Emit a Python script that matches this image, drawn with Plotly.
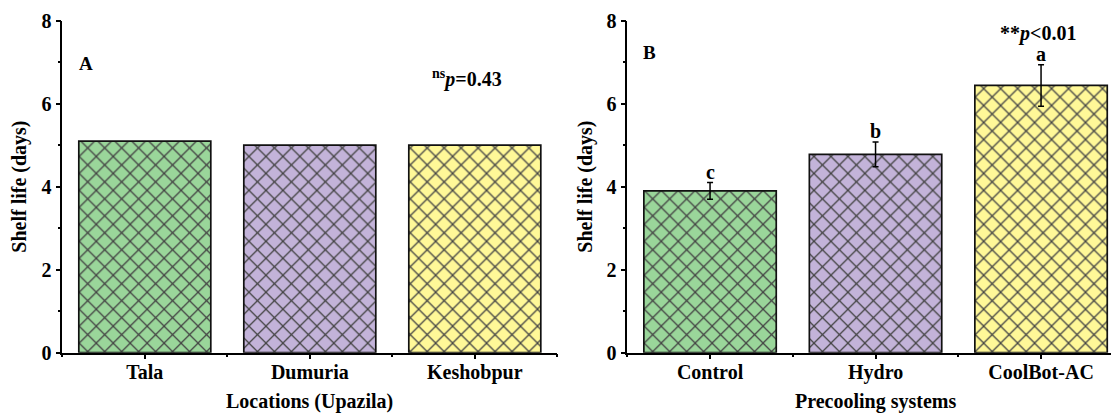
import plotly.graph_objects as go

# ---- data ----
locations = ["Tala", "Dumuria", "Keshobpur"]
loc_shelf = [5.1, 5.0, 5.0]

systems = ["Control", "Hydro", "CoolBot-AC"]
sys_shelf = [3.9, 4.78, 6.44]
sys_err = [0.2, 0.3, 0.5]
sys_letters = ["c", "b", "a"]

bar_colors = ["#9AD69A", "#C3B3D9", "#FFF898"]
yticks = [0, 2, 4, 6, 8]

W, H = 1111, 414
FONT = "Liberation Serif, Times New Roman, serif"
FS = 20

fig = go.Figure()

xs_left = list(range(len(locations)))
xs_right = list(range(len(systems)))

pattern = dict(shape="x", size=12, solidity=0.2,
               fgcolor="#000000", bgcolor=bar_colors, fgopacity=1,
               fillmode="overlay")

fig.add_trace(go.Bar(
    x=xs_left, y=loc_shelf, width=0.8,
    marker=dict(color=bar_colors,
                line=dict(color="#111111", width=1.7),
                pattern=pattern),
    xaxis="x", yaxis="y", showlegend=False, hoverinfo="skip"))

fig.add_trace(go.Bar(
    x=xs_right, y=sys_shelf, width=0.8,
    error_y=dict(type="data", array=sys_err, visible=True,
                 color="#000000", thickness=1.5, width=3),
    marker=dict(color=bar_colors,
                line=dict(color="#111111", width=1.7),
                pattern=pattern),
    xaxis="x2", yaxis="y2", showlegend=False, hoverinfo="skip"))

ydom = [1 - 352.7 / H, 1 - 20.7 / H]
xdom1 = [62.3 / W, 557.3 / W]
xdom2 = [627.3 / W, 1.0]

def xaxis_cfg(dom, labels, rng, anchor):
    n = len(labels)
    return dict(domain=dom, range=rng, anchor=anchor, automargin=False,
                tickmode="array", tickvals=list(range(n)), ticktext=labels,
                ticks="outside", ticklen=5, tickwidth=1.5, tickcolor="#000",
                ticklabelstandoff=-4,
                minor=dict(tickmode="array",
                           tickvals=[i - 0.5 for i in range(n + 1)],
                           ticks="outside", ticklen=3, tickwidth=1.5, tickcolor="#000"),
                showline=True, linecolor="#000", linewidth=1.5,
                showgrid=False, zeroline=False,
                tickfont=dict(family=FONT, size=FS, color="#000", weight="bold"),
                fixedrange=True)

def yaxis_cfg(anchor):
    return dict(domain=ydom, range=[0, 8], anchor=anchor, automargin=False,
                tickmode="array", tickvals=yticks, ticktext=[str(t) for t in yticks],
                ticks="outside", ticklen=5, tickwidth=1.5, tickcolor="#000",
                minor=dict(tickmode="array", tickvals=[1, 3, 5, 7],
                           ticks="outside", ticklen=3, tickwidth=1.5, tickcolor="#000"),
                showline=True, linecolor="#000", linewidth=1.5,
                showgrid=False, zeroline=False,
                tickfont=dict(family=FONT, size=FS, color="#000", weight="bold"),
                fixedrange=True)

right_span = (W - 627.3) / 165.5

annotations = []
tfont = dict(family=FONT, size=FS, color="#000", weight="bold")
ymid = (ydom[0] + ydom[1]) / 2
# axis titles
annotations.append(dict(text="Shelf life (days)", xref="paper", yref="paper",
                        x=20 / W, y=ymid, textangle=-90,
                        showarrow=False, font=tfont, xanchor="center", yanchor="middle"))
annotations.append(dict(text="Shelf life (days)", xref="paper", yref="paper",
                        x=586 / W, y=ymid, textangle=-90,
                        showarrow=False, font=tfont, xanchor="center", yanchor="middle"))
annotations.append(dict(text="Locations (Upazila)", xref="x", yref="paper",
                        x=1, y=0, showarrow=False, font=tfont,
                        xanchor="center", yanchor="bottom", yshift=-1))
annotations.append(dict(text="Precooling systems", xref="x2", yref="paper",
                        x=1, y=0, showarrow=False, font=tfont,
                        xanchor="center", yanchor="bottom", yshift=-1))
# panel labels
pfont = dict(family=FONT, size=FS - 1, color="#000", weight="bold")
annotations.append(dict(text="A", xref="x domain", yref="y domain", x=0.029, y=0.872,
                        xanchor="left", yanchor="middle", showarrow=False, font=pfont))
annotations.append(dict(text="B", xref="x2 domain", yref="y2 domain", x=0.0277, y=0.905,
                        xanchor="left", yanchor="middle", showarrow=False, font=pfont))
# p-values
annotations.append(dict(text="<sup>ns</sup><i>p</i>=0.43", xref="x domain", yref="y domain",
                        x=0.817, y=0.826, xanchor="center", yanchor="middle",
                        showarrow=False, font=tfont))
annotations.append(dict(text="**<i>p</i><0.01", xref="x2 domain", yref="y2 domain",
                        x=0.849, y=0.962, xanchor="center", yanchor="middle",
                        showarrow=False, font=tfont))
# significance letters
for i, (v, e, l) in enumerate(zip(sys_shelf, sys_err, sys_letters)):
    annotations.append(dict(text=l, xref="x2", yref="y2", x=i, y=v + e,
                            xanchor="center", yanchor="bottom", yshift=-2,
                            showarrow=False, font=tfont))

fig.update_layout(
    width=W, height=H,
    margin=dict(l=0, r=0, t=0, b=0, autoexpand=False),
    paper_bgcolor="white", plot_bgcolor="white",
    font=dict(family=FONT, size=FS, color="#000", weight="bold"),
    bargap=0.2,
    xaxis=xaxis_cfg(xdom1, locations, [-0.5, 2.5], "y"),
    yaxis=yaxis_cfg("x"),
    xaxis2=xaxis_cfg(xdom2, systems, [-0.5, -0.5 + right_span], "y2"),
    yaxis2=yaxis_cfg("x2"),
    annotations=annotations,
)

fig.write_html("out.html",
               config={"displayModeBar": False},
               post_script="document.body.style.margin='0';document.body.style.overflow='hidden';")
